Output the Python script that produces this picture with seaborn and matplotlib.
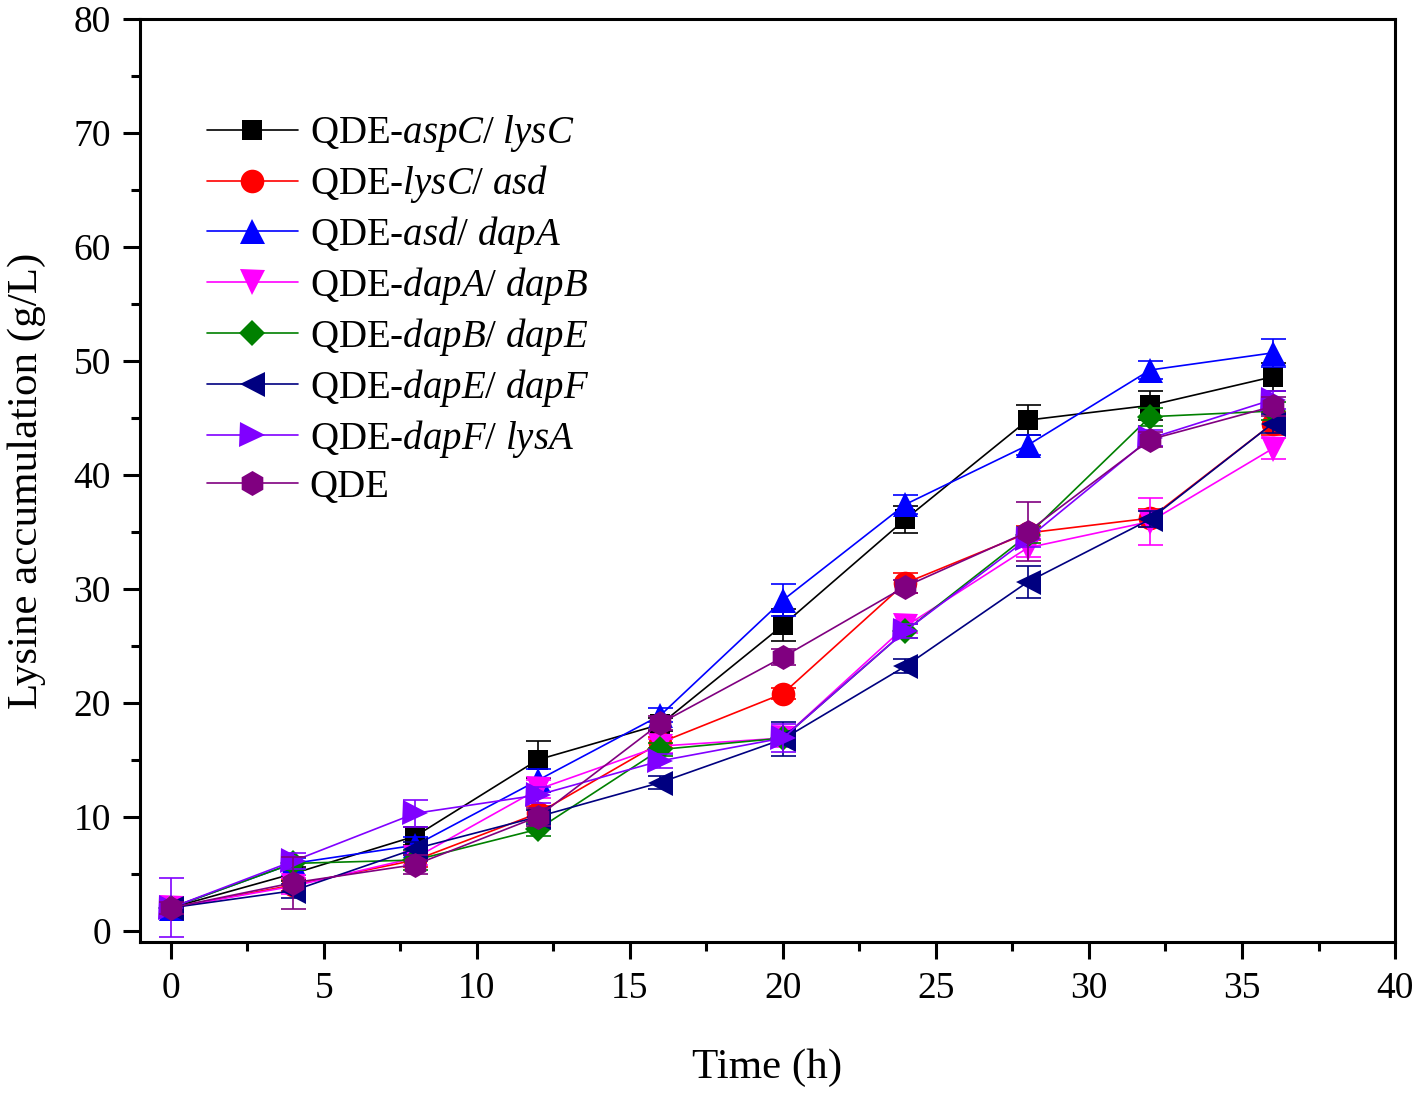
import pandas as pd
import matplotlib
matplotlib.use('Agg')
import matplotlib.pyplot as plt
import seaborn as sns

# Dados
tempo = [0, 4, 8, 12, 16, 20, 24, 28, 32, 36]

aspC_lysC = [2.0, 5.0, 8.3, 15.0, 18.1, 26.8, 36.1, 44.8, 46.1, 48.6]
lysC_asd = [2.0, 4.0, 6.2, 10.3, 16.5, 20.8, 30.5, 34.9, 36.2, 44.5]
asd_dapA = [2.0, 5.9, 7.5, 13.2, 18.9, 29.0, 37.4, 42.6, 49.2, 50.7]
dapA_dapB = [2.0, 3.9, 6.4, 12.4, 16.2, 16.9, 26.7, 33.6, 35.9, 42.3]
dapB_dapE = [2.0, 5.9, 6.2, 8.9, 15.9, 16.9, 26.3, 34.7, 45.1, 45.6]
dapE_dapF = [2.0, 3.5, 7.2, 10.0, 13.0, 16.8, 23.2, 30.6, 36.1, 44.5]
dapF_lysA = [2.0, 6.1, 10.3, 11.9, 14.9, 16.9, 26.3, 34.4, 43.2, 46.6]
qde = [2.0, 4.2, 5.8, 10.0, 18.2, 24.0, 30.2, 35.0, 43.1, 46.0]

err_aspC_lysC = [0.5, 0.6, 0.8, 1.6, 0.6, 1.4, 1.2, 1.3, 1.3, 1.2]
err_lysC_asd = [0.4, 0.5, 0.6, 0.6, 0.5, 0.5, 0.9, 0.6, 0.8, 1.0]
err_asd_dapA = [0.4, 0.5, 0.7, 1.0, 0.6, 1.4, 0.8, 0.9, 0.8, 1.2]
err_dapA_dapB = [0.5, 0.7, 0.6, 0.8, 0.6, 0.8, 0.6, 0.8, 2.1, 0.9]
err_dapB_dapE = [0.4, 0.6, 0.9, 0.6, 0.6, 0.6, 0.6, 0.7, 0.8, 0.8]
err_dapE_dapF = [0.5, 0.6, 0.6, 0.6, 0.6, 1.5, 0.6, 1.4, 0.7, 0.8]
err_dapF_lysA = [2.6, 0.7, 1.2, 0.7, 0.6, 1.2, 0.6, 0.7, 0.7, 0.8]
err_qde = [0.5, 2.3, 0.8, 0.8, 0.6, 0.7, 0.6, 2.6, 0.7, 0.8]

rotulos = [r'QDE-$\mathit{aspC/\ lysC}$', r'QDE-$\mathit{lysC/\ asd}$',
           r'QDE-$\mathit{asd/\ dapA}$', r'QDE-$\mathit{dapA/\ dapB}$',
           r'QDE-$\mathit{dapB/\ dapE}$', r'QDE-$\mathit{dapE/\ dapF}$',
           r'QDE-$\mathit{dapF/\ lysA}$', 'QDE']
series = [aspC_lysC, lysC_asd, asd_dapA, dapA_dapB, dapB_dapE, dapE_dapF, dapF_lysA, qde]
erros = [err_aspC_lysC, err_lysC_asd, err_asd_dapA, err_dapA_dapB,
         err_dapB_dapE, err_dapE_dapF, err_dapF_lysA, err_qde]
cores = ['#000000', '#FF0000', '#0000FF', '#FF00FF', '#008000', '#000080', '#8000FF', '#800080']
marcadores = ['s', 'o', '^', 'v', 'D', '<', '>', 'h']
tamanhos = [15, 17, 18, 18, 13, 18, 18, 18]

sns.set_style('ticks')
plt.rcParams['font.family'] = ['Liberation Serif', 'DejaVu Serif']
plt.rcParams['mathtext.fontset'] = 'custom'
plt.rcParams['mathtext.rm'] = 'Liberation Serif'
plt.rcParams['mathtext.it'] = 'Liberation Serif:italic'
for chave in ['text.color', 'axes.labelcolor', 'xtick.color', 'ytick.color']:
    plt.rcParams[chave] = 'black'

fig = plt.figure(figsize=(14.17, 10.93), dpi=100)
ax = fig.add_axes([0.0988, 0.1381, 0.8857, 0.8445])

for i in range(len(series)):
    df = pd.DataFrame({'Time': tempo, 'Lys': series[i]})
    sns.lineplot(data=df, x='Time', y='Lys', ax=ax, color=cores[i], marker=marcadores[i],
                 markersize=tamanhos[i], markeredgewidth=0, linewidth=1.2,
                 label=rotulos[i], zorder=3 + i)
    ax.errorbar(tempo, series[i], yerr=erros[i], fmt='none', ecolor=cores[i],
                elinewidth=1.2, capsize=9, capthick=1.2, zorder=3 + i)

ax.set_xlim(-1, 40)
ax.set_ylim(-1, 80)
ax.set_xticks(range(0, 41, 5))
ax.set_xticks([x + 2.5 for x in range(0, 40, 5)], minor=True)
ax.set_yticks(range(0, 81, 10))
ax.set_yticks(range(5, 80, 10), minor=True)

ax.set_xlabel('Time (h)', fontsize=31, labelpad=31)
ax.set_ylabel('Lysine accumulation (g/L)', fontsize=31, labelpad=20)
ax.tick_params(axis='both', which='major', labelsize=27, direction='out',
               length=12, width=2.2, pad=9)
ax.tick_params(axis='both', which='minor', direction='out', length=6.5, width=2.2)

for lado in ['top', 'right', 'bottom', 'left']:
    ax.spines[lado].set_linewidth(2.2)
    ax.spines[lado].set_color('black')

ax.legend(loc='upper left', bbox_to_anchor=(0.053, 0.898), frameon=False,
          fontsize=28, handlelength=2.35, handletextpad=0.3, labelspacing=0.23,
          borderpad=0, borderaxespad=0)

fig.savefig('out.png', dpi=100)
